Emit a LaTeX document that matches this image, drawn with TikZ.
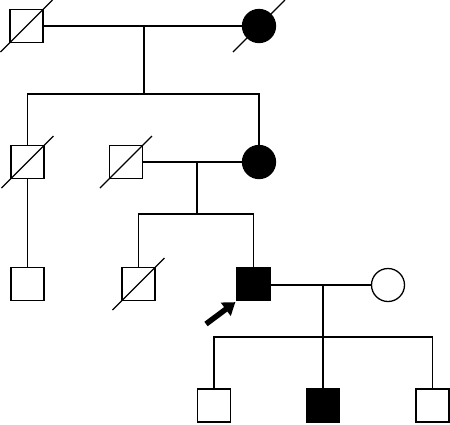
\documentclass[tikz,border=0pt]{standalone}
\usetikzlibrary{arrows.meta}
\begin{document}
\begin{tikzpicture}[x=1pt,y=-1pt,
      male/.style={draw,line width=1.3pt,minimum size=33pt,inner sep=0pt,fill=white},
      female/.style={male,circle},
      aff/.style={fill=black},
      rel/.style={line width=1.3pt},
      dead/.style={line width=1.1pt},
      pb/.style={-{Triangle[length=12pt,width=16pt]},line width=5.5pt}]
    \useasboundingbox (0,0) rectangle (450,424);
    % generation I
    \node[male] (i1) at (26.5,26) {};
    \node[female,aff] (i2) at (259,26) {};
    \coordinate (m1) at (144,26);
    \coordinate (s1) at (144,94);
    % generation II
    \node[male] (ii1) at (27.5,162) {};
    \node[male] (ii2) at (126,162) {};
    \node[female,aff] (ii3) at (259,162) {};
    \coordinate (m2) at (197,162);
    \coordinate (s2) at (197,214);
    % generation III
    \node[male] (iii1) at (27.5,284) {};
    \node[male] (iii2) at (138.5,284) {};
    \node[male,aff] (iii3) at (253.5,284) {};
    \node[female] (iii4) at (388,285) {};
    \coordinate (m3) at (323,285);
    \coordinate (s3) at (323,337);
    % generation IV
    \node[male] (iv1) at (214,405.5) {};
    \node[male,aff] (iv2) at (323,405.5) {};
    \node[male] (iv3) at (432.5,405.5) {};
    % lines of descent
    \draw[rel] (i1) -- (i2);
    \draw[rel] (m1) -- (s1);
    \draw[rel] (ii1) |- (s1) -| (ii3);
    \draw[rel] (ii2) -- (ii3);
    \draw[rel] (m2) -- (s2);
    \draw[rel] (iii2) |- (s2) -| (iii3);
    \draw[rel] (ii1) -- (iii1);
    \draw[rel] (iii3.east |- m3) -- (iii4);
    \draw[rel] (m3) -- (iv2);
    \draw[rel] (iv1) |- (s3) -| (iv3);
    % deceased
    \foreach \n in {i1,i2,ii1,ii2,iii2}
      \draw[dead] (\n) ++(-26,26) -- ++(52,-52);
    % proband
    \coordinate (pt) at (206,324);
    \draw[pb] (pt) -- ([shift={(-1,1)}]iii3.south west);
  \end{tikzpicture}
\end{document}
